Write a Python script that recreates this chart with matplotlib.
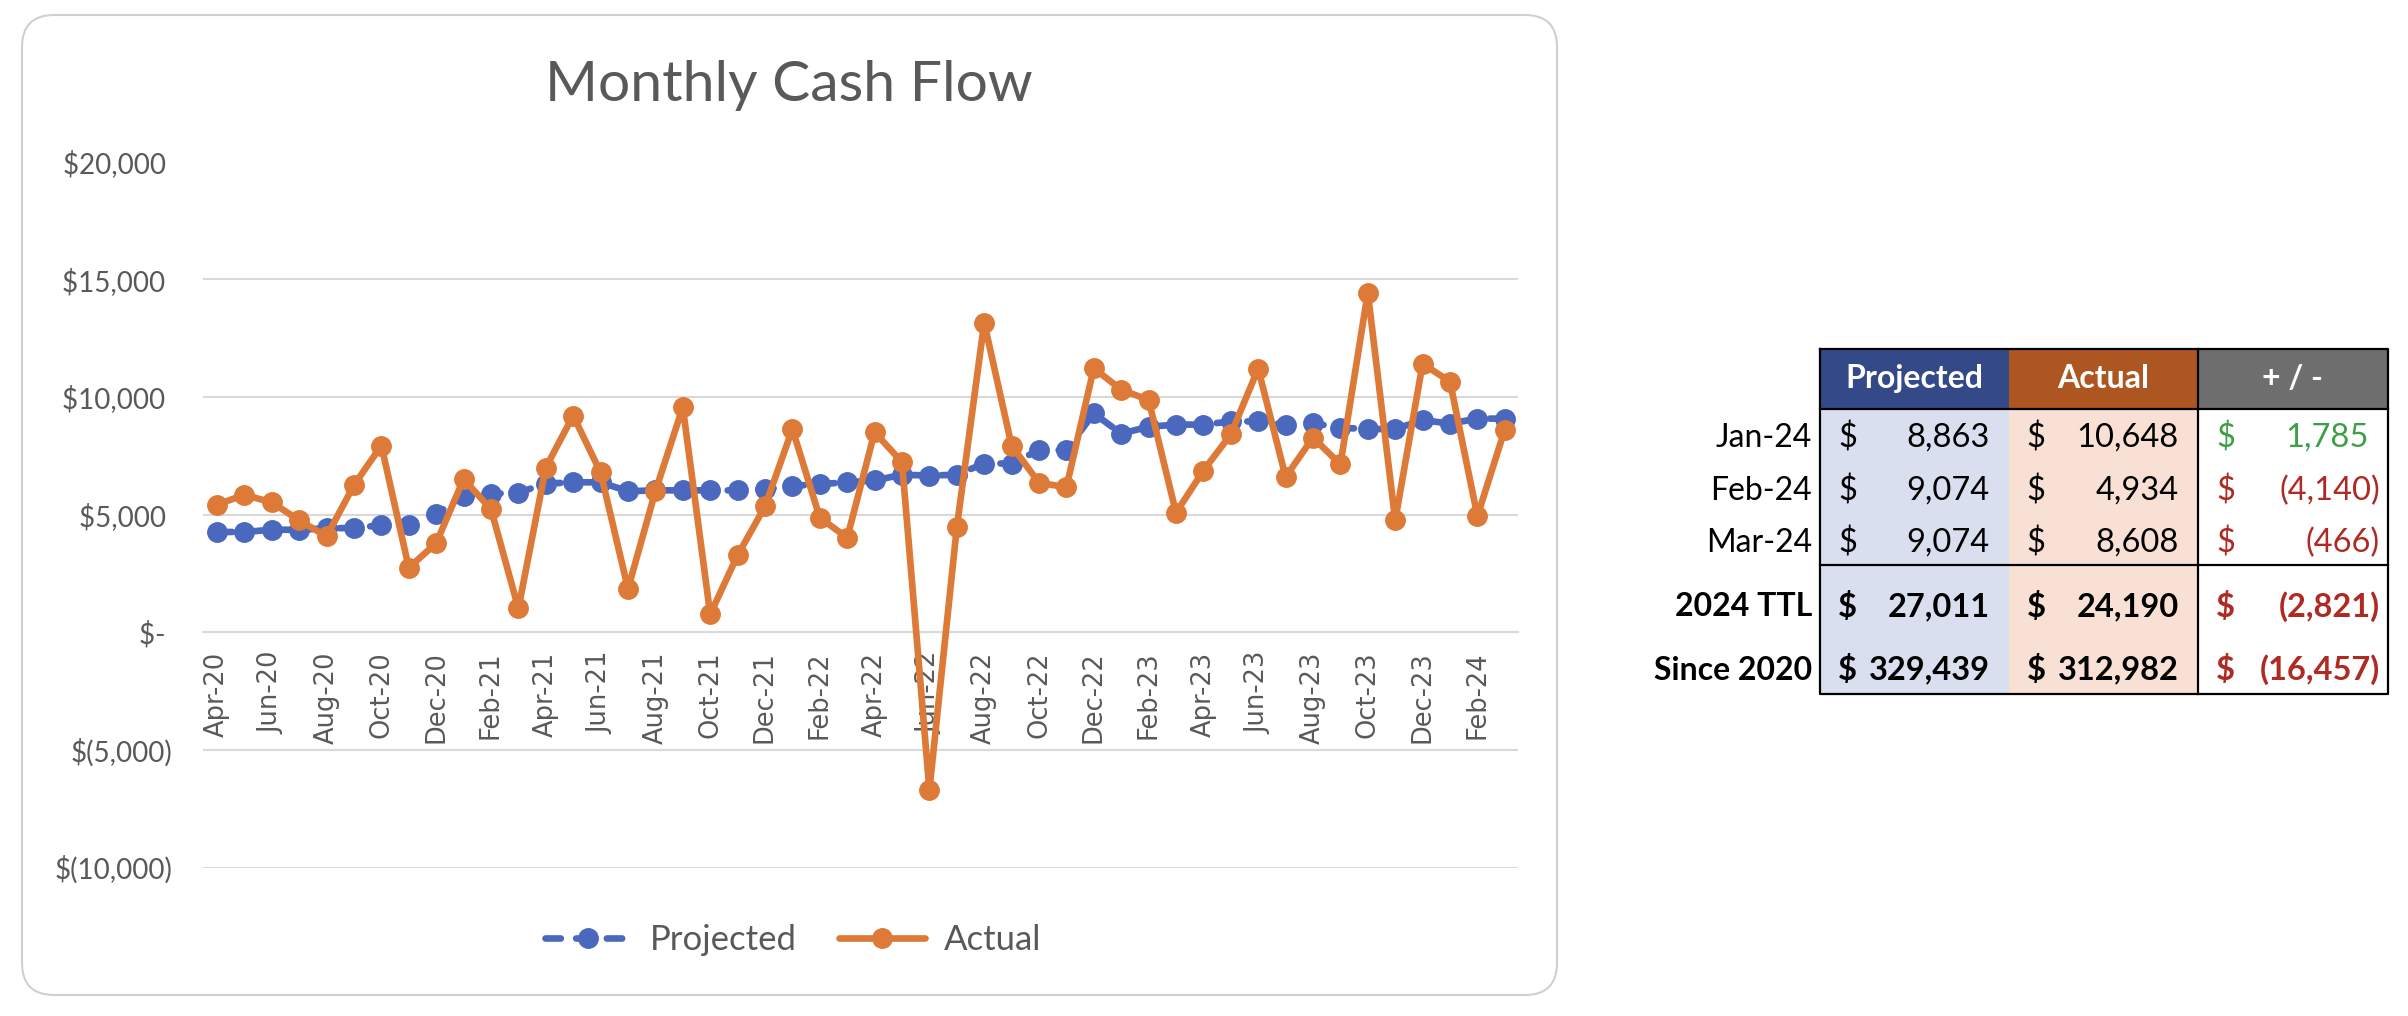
import matplotlib
matplotlib.use('Agg')
import matplotlib.pyplot as plt
from matplotlib.patches import FancyBboxPatch, Rectangle
import pandas as pd

plt.rcParams['font.family'] = ['Lato', 'DejaVu Sans']

# monthly data, Apr-20 .. Mar-24
months = pd.date_range('2020-04-01', periods=48, freq='MS').strftime('%b-%y').tolist()

projected = [4258, 4258, 4353, 4353, 4410, 4430, 4543, 4560, 5019, 5779, 5874, 5931,
             6311, 6368, 6368, 5988, 6026, 6026, 6026, 6026, 6064, 6216, 6292, 6368,
             6445, 6692, 6654, 6692, 7167, 7167, 7737, 7737, 9296, 8440, 8726, 8821,
             8821, 8954, 8954, 8821, 8878, 8688, 8631, 8631, 9011, 8863, 9074, 9074]

actual = [5418, 5836, 5513, 4753, 4068, 6254, 7927, 2737, 3783, 6502, 5228, 1008,
          6996, 9201, 6787, 1844, 5988, 9562, 760, 3270, 5342, 8631, 4867, 4011,
          8498, 7224, -6711, 4448, 13155, 7927, 6349, 6159, 11216, 10303, 9866, 5076,
          6863, 8402, 11197, 6596, 8269, 7129, 14429, 4753, 11406, 10648, 4934, 8608]

y_ticks = [-10000, -5000, 0, 5000, 10000, 15000, 20000]
y_labels = ['$(10,000)', '$(5,000)', '$- ', '$5,000 ', '$10,000 ', '$15,000 ', '$20,000 ']

# summary table
table_rows = ['Jan-24', 'Feb-24', 'Mar-24', '2024 TTL', 'Since 2020']
table_proj = [8863, 9074, 9074, 27011, 329439]
table_act = [10648, 4934, 8608, 24190, 312982]
table_diff = [a - p for a, p in zip(table_act, table_proj)]

BLUE = '#4A68BE'
ORANGE = '#DD7A38'
GREY_TXT = '#595959'

fig = plt.figure(figsize=(24.08, 10.16), dpi=100)

# background layer in pixel coords (chart frame + table)
bg = fig.add_axes([0, 0, 1, 1])
bg.set_xlim(0, 2408)
bg.set_ylim(1016, 0)
bg.axis('off')
bg.add_patch(FancyBboxPatch((22, 15), 1535, 980, boxstyle='round,pad=0,rounding_size=32',
                            fc='white', ec='#D0D0D0', lw=1.5))

bg.text(789, 101, 'Monthly Cash Flow', ha='center', va='baseline',
        fontsize=41, color=GREY_TXT)

# chart
ax = fig.add_axes([203.3 / 2408, 148.5 / 1016, 1315.2 / 2408, 706 / 1016])
ax.set_facecolor('none')
ax.set_zorder(2)

x = list(range(len(months)))
ax.plot(x, projected, color=BLUE, lw=4.8, marker='o', markersize=14,
        dashes=(2.3, 2.3), dash_capstyle='round', label='Projected', zorder=3)
ax.plot(x, actual, color=ORANGE, lw=4.8, marker='o', markersize=14,
        solid_capstyle='round', label='Actual', zorder=4)

ax.set_xlim(-0.5, len(months) - 0.5)
ax.set_ylim(-10000, 20000)

ax.set_yticks(y_ticks)
ax.set_yticklabels(y_labels)
ax.set_xticks(x[::2])
ax.set_xticklabels(months[::2])
ax.tick_params(axis='x', length=0, pad=14, labelrotation=90, labelsize=18.5,
               labelcolor=GREY_TXT, labelfontfamily='DejaVu Sans')
ax.tick_params(axis='y', length=0, pad=22, labelsize=20, labelcolor=GREY_TXT)

ax.grid(axis='y', color='#D9D9D9', lw=1.5)
ax.set_axisbelow(True)
for s in ['top', 'right', 'left']:
    ax.spines[s].set_visible(False)
ax.spines['bottom'].set_position(('data', 0))
ax.spines['bottom'].set_color('#D9D9D9')
ax.spines['bottom'].set_linewidth(1.5)

leg = fig.legend(loc='center', bbox_to_anchor=(793 / 2408, 1 - 940 / 1016), ncol=2,
                 frameon=False, fontsize=25, handlelength=2.48, handletextpad=0.55,
                 columnspacing=1.2, numpoints=1)
for t in leg.get_texts():
    t.set_color(GREY_TXT)

# table
col_x = [1820, 2008.5, 2198, 2388]
top, head_bot, mid_line, bottom = 349, 408.5, 565, 694
row_y = [438, 491, 543, 606.5, 670]

bg.add_patch(Rectangle((col_x[0], top), col_x[1] - col_x[0], head_bot - top, fc='#344A88', ec='none'))
bg.add_patch(Rectangle((col_x[1], top), col_x[2] - col_x[1], head_bot - top, fc='#AE5622', ec='none'))
bg.add_patch(Rectangle((col_x[2], top), col_x[3] - col_x[2], head_bot - top, fc='#6E6E6E', ec='none'))
bg.add_patch(Rectangle((col_x[0], head_bot), col_x[1] - col_x[0], bottom - head_bot, fc='#D9DFEF', ec='none'))
bg.add_patch(Rectangle((col_x[1], head_bot), col_x[2] - col_x[1], bottom - head_bot, fc='#F8E1D4', ec='none'))

lk = dict(color='black', lw=1.6)
bg.plot([col_x[0], col_x[3], col_x[3], col_x[0], col_x[0]], [top, top, bottom, bottom, top], **lk)
bg.plot([col_x[2], col_x[2]], [top, bottom], **lk)
bg.plot([col_x[0], col_x[3]], [head_bot, head_bot], **lk)
bg.plot([col_x[0], col_x[3]], [mid_line, mid_line], **lk)

hy = (top + head_bot) / 2
for i, h in enumerate(['Projected', 'Actual', '+ / -']):
    bg.text((col_x[i] + col_x[i + 1]) / 2, hy, h, ha='center', va='center',
            fontsize=23, fontweight='bold', color='white')


def money(v):
    return f'{v:,}' if v >= 0 else f'({-v:,})'


for r, label in enumerate(table_rows):
    y = row_y[r]
    w = 'bold' if r >= 3 else 'normal'
    bg.text(1812, y, label, ha='right', va='center', fontsize=23, fontweight=w, color='black')
    vals = [table_proj[r], table_act[r], table_diff[r]]
    for c, v in enumerate(vals):
        if c == 2:
            col = '#3F9F47' if v >= 0 else '#AE2A22'
        else:
            col = 'black'
        bg.text(col_x[c] + 18, y, '$', ha='left', va='center', fontsize=23.5, fontweight=w, color=col)
        xr = col_x[c + 1] - (8 if v < 0 else 19)
        bg.text(xr, y, money(v), ha='right', va='center', fontsize=23.5, fontweight=w, color=col)

fig.savefig('out.png', dpi=100, facecolor='white')
